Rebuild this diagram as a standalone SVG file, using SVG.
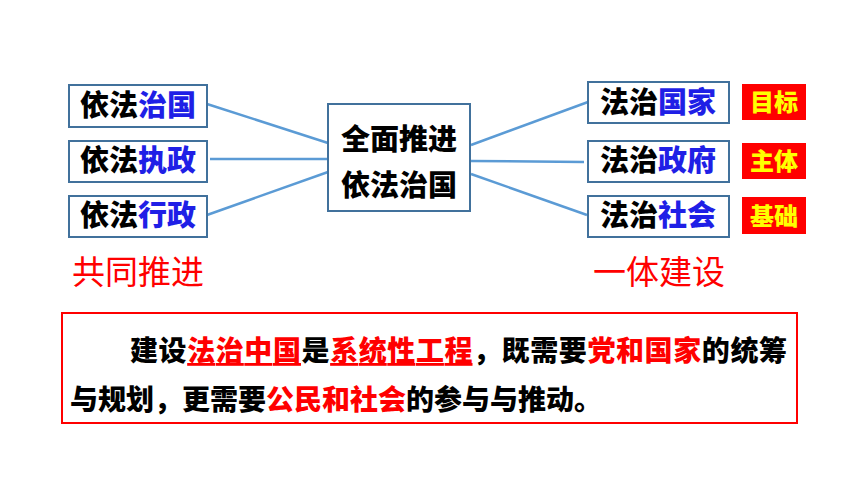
<svg xmlns="http://www.w3.org/2000/svg" width="860" height="484" viewBox="0 0 860 484">
<style>
.box{fill:#fff;stroke:#41719C;stroke-width:2}
.t{font-family:"Noto Sans CJK SC","Noto Sans",sans-serif;font-weight:900;font-size:29px;fill:#000}
.b{fill:#1F1FE6}
.r{fill:#FF0000}
.tag{fill:#FF0000}
.tt{font-family:"Noto Sans CJK SC","Noto Sans",sans-serif;font-weight:900;font-size:24px;fill:#FFFF00}
.big{font-family:"Noto Sans CJK SC","Noto Sans",sans-serif;font-weight:400;font-size:33px;fill:#FF0000}
.p{font-family:"Noto Sans CJK SC","Noto Sans",sans-serif;font-weight:900;font-size:28px;fill:#000}
.conn line{stroke:#5B9BD5;stroke-width:2.5}
</style>
<rect width="860" height="484" fill="#fff"/>
<g class="conn" id="connectors">
<line x1="207" y1="104" x2="328" y2="143"/>
<line x1="210" y1="159" x2="328" y2="159"/>
<line x1="207" y1="215" x2="328" y2="172"/>
<line x1="471" y1="145" x2="588" y2="102"/>
<line x1="471" y1="161" x2="584" y2="162"/>
<line x1="471" y1="174" x2="587" y2="215"/>
</g>
<g id="n-yifazhiguo">
<rect class="box" x="69" y="85" width="138" height="42"/>
<text class="t" x="138" y="116" text-anchor="middle">依法<tspan class="b">治国</tspan></text>
</g>
<g id="n-yifazhizheng">
<rect class="box" x="69" y="141" width="138" height="41"/>
<text class="t" x="138" y="171" text-anchor="middle">依法<tspan class="b">执政</tspan></text>
</g>
<g id="n-yifaxingzheng">
<rect class="box" x="69" y="196" width="138" height="41"/>
<text class="t" x="138" y="226" text-anchor="middle">依法<tspan class="b">行政</tspan></text>
</g>
<g id="n-center">
<rect class="box" x="328" y="104" width="142" height="107"/>
<text class="t" x="399" y="150" text-anchor="middle">全面推进</text>
<text class="t" x="399" y="196" text-anchor="middle">依法治国</text>
</g>
<g id="n-fazhiguojia">
<rect class="box" x="588" y="82" width="141" height="41"/>
<text class="t" x="658" y="113" text-anchor="middle">法治<tspan class="b">国家</tspan></text>
</g>
<g id="n-fazhizhengfu">
<rect class="box" x="588" y="141" width="141" height="41"/>
<text class="t" x="658" y="171" text-anchor="middle">法治<tspan class="b">政府</tspan></text>
</g>
<g id="n-fazhishehui">
<rect class="box" x="588" y="196" width="141" height="41"/>
<text class="t" x="658" y="226" text-anchor="middle">法治<tspan class="b">社会</tspan></text>
</g>
<g id="tag-mubiao">
<rect class="tag" x="742" y="84" width="64" height="36"/>
<text class="tt" x="774" y="111" text-anchor="middle">目标</text>
</g>
<g id="tag-zhuti">
<rect class="tag" x="742" y="143" width="64" height="36"/>
<text class="tt" x="774" y="170" text-anchor="middle">主体</text>
</g>
<g id="tag-jichu">
<rect class="tag" x="742" y="197" width="64" height="37"/>
<text class="tt" x="774" y="225" text-anchor="middle">基础</text>
</g>
<text class="big" x="72" y="284">共同推进</text>
<text class="big" x="593" y="284">一体建设</text>
<g id="n-para">
<rect x="62" y="313" width="735" height="110" fill="#fff" stroke="#FF0000" stroke-width="2"/>
<text class="p" x="130" y="361" textLength="657" lengthAdjust="spacing">建设<tspan class="r" text-decoration="underline">法治中国</tspan>是<tspan class="r" text-decoration="underline">系统性工程</tspan>，既需要<tspan class="r">党和国家</tspan>的统筹</text>
<text class="p" x="70" y="410" textLength="532" lengthAdjust="spacing">与规划，更需要<tspan class="r">公民和社会</tspan>的参与与推动。</text>
</g>
</svg>
